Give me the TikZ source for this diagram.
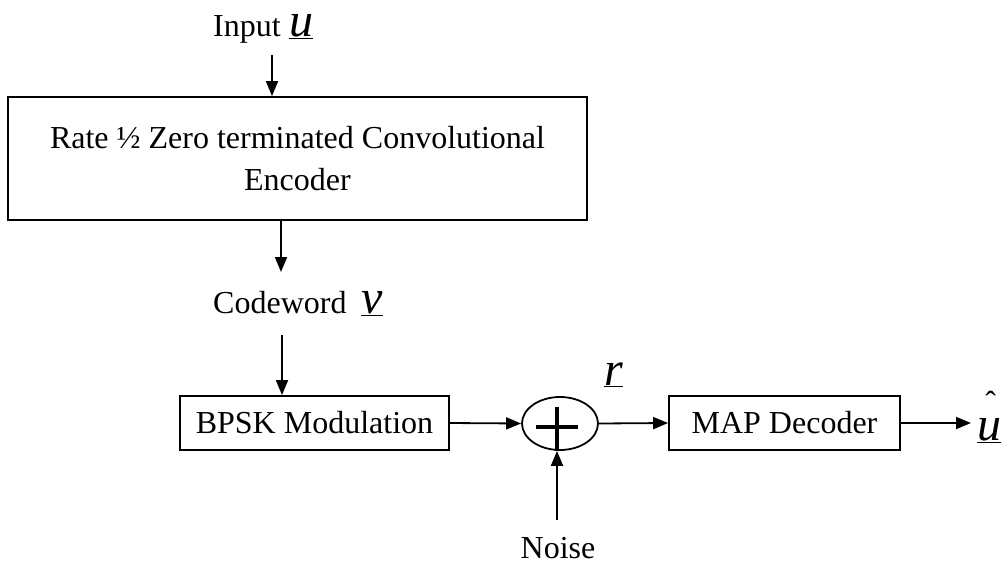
\documentclass[tikz,border=0pt]{standalone}
\usepackage{fontspec}
\setmainfont{Liberation Serif}
\usetikzlibrary{arrows.meta,shapes.geometric}
\tikzset{
  txt/.style={inner sep=0pt, font=\fontsize{32pt}{42pt}\selectfont},
  sym/.style={inner sep=0pt, font=\fontsize{48pt}{50pt}\selectfont\itshape},
  blockbox/.style={draw, line width=1.8pt, inner sep=0pt, align=center,
                   font=\fontsize{32pt}{42pt}\selectfont},
  arr/.style={line width=1.8pt, -{Triangle[length=15pt,width=12pt]}},
  plusline/.style={line width=3.6pt}
}
\begin{document}
\begin{tikzpicture}[x=1pt, y=-1pt]
\useasboundingbox (0,0) rectangle (1005,566);

% encoder input
\node[txt, anchor=base west] (inlbl) at (213,36) {Input};
\node[sym, anchor=base west] (insym) at (289,36) {\underline{u}};
\coordinate (c0) at (272,55);

% encoder block
\node[blockbox, minimum width=579pt, minimum height=123pt] (enc) at (297.5,158.5)
  {Rate \textonehalf{} Zero terminated Convolutional\\Encoder};
\draw[arr] (c0) -- (c0 |- enc.north);

% codeword
\coordinate (c1) at (281,272);
\draw[arr] (c1 |- enc.south) -- (c1);
\node[txt, anchor=base west] (cwlbl) at (213,313) {Codeword};
\node[sym, anchor=base west] (cwsym) at (361,313) {\underline{v}};
\coordinate (c2) at (282,335);

% modulation, channel and decoder
\node[blockbox, minimum width=269pt, minimum height=54pt] (bpsk) at (314.5,423) {BPSK Modulation};
\draw[arr] (c2) -- (c2 |- bpsk.north);

\node[draw, ellipse, line width=1.8pt, inner sep=0pt, minimum width=76pt, minimum height=53pt] (sum) at (560,423.5) {};
\draw[plusline] (sum.center) ++(-24,3.5) -- ++(42,0);
\draw[plusline] (sum.south) ++(-3,0) -- ++(0,-44);

\node[blockbox, minimum width=231pt, minimum height=54pt] (map) at (784.5,423) {MAP Decoder};

\draw[arr] (bpsk.east) -- (sum.west);
\draw[arr] (sum.east) -- (map.west);

\node[sym, anchor=base west] (rsym) at (604,385) {\underline{r}};

% decoder output
\node[sym, anchor=base west] (uhat) at (977,440)
  {\makebox[0pt][l]{\hspace{0.17em}\raisebox{0.55em}{\upshape\fontsize{32pt}{32pt}\selectfont\char"02C6}}\underline{u}};
\draw[arr] (map.east) -- ([xshift=-6pt]map.east -| uhat.west);

% noise input
\node[txt, anchor=base] (noise) at (558,558) {Noise};
\coordinate (c3) at (557,520);
\draw[arr] (c3) -- (c3 |- sum.south);
\end{tikzpicture}
\end{document}
